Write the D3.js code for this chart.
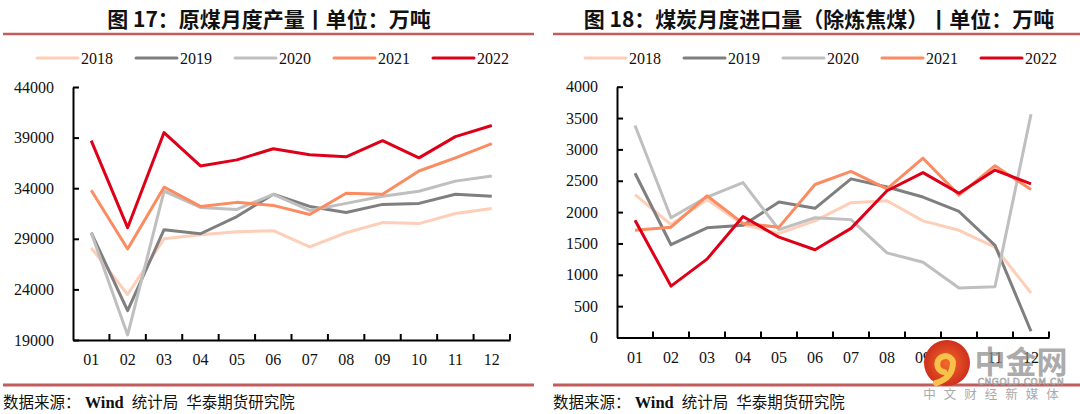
<!DOCTYPE html>
<html>
<head>
<meta charset="utf-8">
<script src="https://cdn.jsdelivr.net/npm/d3@7"></script>
<style>
  body { margin: 0; background: #fff; }
  svg { display: block; }
</style>
</head>
<body>
<script>
// data
const months = ['01', '02', '03', '04', '05', '06', '07', '08', '09', '10', '11', '12']
const years = ['2018', '2019', '2020', '2021', '2022']

// 原煤月度产量 (万吨)
const output2018 = [28100, 23500, 29000, 29400, 29700, 29800, 28200, 29600, 30600, 30500, 31500, 32000]
const output2019 = [29600, 21900, 29900, 29500, 31200, 33400, 32200, 31600, 32400, 32500, 33400, 33200]
const output2020 = [29600, 19500, 33700, 32100, 31900, 33400, 31800, 32500, 33200, 33700, 34700, 35200]
const output2021 = [33800, 28000, 34100, 32200, 32600, 32300, 31400, 33500, 33400, 35700, 37000, 38400]
const output2022 = [38700, 30100, 39500, 36200, 36800, 37900, 37300, 37100, 38700, 37000, 39100, 40200]
const outputTicks = [19000, 24000, 29000, 34000, 39000, 44000]

// 煤炭月度进口量 除炼焦煤 (万吨)
const import2018 = [2280, 1800, 2200, 1800, 1660, 1860, 2150, 2180, 1860, 1710, 1440, 710]
const import2019 = [2620, 1480, 1750, 1790, 2160, 2060, 2530, 2400, 2240, 2010, 1470, 100]
const import2020 = [3380, 1910, 2240, 2470, 1720, 1910, 1880, 1350, 1200, 790, 810, 3560]
const import2021 = [1710, 1760, 2260, 1820, 1760, 2440, 2650, 2370, 2860, 2270, 2740, 2360]
const import2022 = [1870, 820, 1250, 1930, 1600, 1400, 1740, 2340, 2630, 2300, 2670, 2450]
const importTicks = [0, 500, 1000, 1500, 2000, 2500, 3000, 3500, 4000]

const colors = ['#fdceb8', '#7f7f7f', '#bfbfbf', '#fb8c62', '#de0019']
const ruleColor = '#c25d5e'
const numFont = '"Liberation Serif", "Times New Roman", serif'
const cjkFont = '"Noto Sans CJK SC", "Noto Sans", sans-serif'

const svg = d3.select('body')
  .append('svg')
  .attr('width', 1080)
  .attr('height', 414)

const drawPanel = ({ left, right, title, titleX, series, ticks, yRange, xRange, legendX, labelPad }) => {
  const g = svg.append('g')

  // title + rules
  g.append('text')
    .attr('x', titleX)
    .attr('y', 27)
    .attr('text-anchor', 'middle')
    .attr('font-family', cjkFont)
    .attr('font-weight', 'bold')
    .attr('font-size', 21)
    .attr('fill', '#111')
    .text(title)

  g.append('line')
    .attr('x1', left).attr('x2', right)
    .attr('y1', 34).attr('y2', 34)
    .attr('stroke', ruleColor)
    .attr('stroke-width', 2.5)

  g.append('line')
    .attr('x1', left).attr('x2', right)
    .attr('y1', 385).attr('y2', 385)
    .attr('stroke', ruleColor)
    .attr('stroke-width', 3)

  const src = g.append('text')
    .attr('x', left)
    .attr('y', 408)
    .attr('font-family', cjkFont)
    .attr('font-size', 15.5)
    .attr('fill', '#111')
  src.append('tspan').text('数据来源：')
  src.append('tspan').attr('font-family', numFont).attr('font-weight', 'bold').attr('font-size', 16.5).text(' Wind')
  src.append('tspan').attr('dx', 8).text('统计局')
  src.append('tspan').attr('dx', 8).text('华泰期货研究院')

  // legend
  const legend = g.selectAll('.legend')
    .data(years)
    .enter()
    .append('g')
      .attr('class', 'legend')
      .attr('transform', (d, i) => `translate(${legendX + i * 99}, 58)`)

  legend.append('line')
    .attr('x1', 0).attr('x2', 41)
    .attr('stroke', (d, i) => colors[i])
    .attr('stroke-width', 3)
    .attr('stroke-linecap', 'round')

  legend.append('text')
    .attr('x', 44)
    .attr('y', 5.5)
    .attr('font-family', numFont)
    .attr('font-size', 16)
    .attr('fill', '#111')
    .text(d => d)

  // scales
  const x = d3.scaleBand()
    .domain(months)
    .range(xRange)

  const y = d3.scaleLinear()
    .domain([ticks[0], ticks[ticks.length - 1]])
    .range(yRange)

  // lines
  const line = d3.line()
    .x((d, i) => x(months[i]) + x.bandwidth() / 2)
    .y(d => y(d))

  g.selectAll('.series')
    .data(series)
    .enter()
    .append('path')
      .attr('class', 'series')
      .attr('fill', 'none')
      .attr('stroke', (d, i) => colors[i])
      .attr('stroke-width', 3)
      .attr('stroke-linejoin', 'round')
      .attr('d', line)

  // y axis, ticks inside
  const yAxis = g.append('g')
    .attr('transform', `translate(${xRange[0]}, 0)`)
    .call(d3.axisLeft(y).tickValues(ticks).tickSize(-6).tickSizeOuter(0).tickPadding(19).tickFormat(d3.format('d')))
  yAxis.select('.domain').attr('stroke', '#000').attr('stroke-width', 2)
  yAxis.selectAll('.tick line').attr('stroke', '#000').attr('stroke-width', 2)
  yAxis.selectAll('text')
    .attr('font-family', numFont)
    .attr('font-size', 16)
    .attr('fill', '#111')

  // x axis, labels in the bands, ticks at band edges
  const xAxis = g.append('g')
    .attr('transform', `translate(0, ${yRange[0]})`)
    .call(d3.axisBottom(x).tickSize(0).tickSizeOuter(0).tickPadding(labelPad))
  xAxis.select('.domain').attr('stroke', '#000').attr('stroke-width', 2)
  xAxis.selectAll('text')
    .attr('font-family', numFont)
    .attr('font-size', 16)
    .attr('fill', '#111')

  xAxis.selectAll('.edge')
    .data(months)
    .enter()
    .append('line')
      .attr('class', 'edge')
      .attr('x1', d => x(d) + x.bandwidth())
      .attr('x2', d => x(d) + x.bandwidth())
      .attr('y1', 0)
      .attr('y2', -6)
      .attr('stroke', '#000')
      .attr('stroke-width', 2)
}

drawPanel({
  left: 3, right: 534,
  title: '图 17：原煤月度产量丨单位：万吨',
  titleX: 269,
  series: [output2018, output2019, output2020, output2021, output2022],
  ticks: outputTicks,
  yRange: [340, 87],
  xRange: [73, 510],
  legendX: 37,
  labelPad: 14
})

drawPanel({
  left: 553, right: 1080,
  title: '图 18：煤炭月度进口量（除炼焦煤）丨单位：万吨',
  titleX: 819,
  series: [import2018, import2019, import2020, import2021, import2022],
  ticks: importTicks,
  yRange: [337.5, 86.7],
  xRange: [617, 1049],
  legendX: 585,
  labelPad: 14
})

// watermark (中金网), sits over the axis labels like in the source image
const wm = svg.append('g')
const grad = svg.append('defs').append('radialGradient').attr('id', 'wmGrad')
grad.append('stop').attr('offset', '0%').attr('stop-color', '#f26a2c')
grad.append('stop').attr('offset', '100%').attr('stop-color', '#cf2f1c')

wm.append('circle')
  .attr('cx', 947).attr('cy', 363).attr('r', 23)
  .attr('fill', 'url(#wmGrad)')

wm.append('path')
  .attr('d', 'M 944 372 A 8 8 0 1 1 953 362 Q 953 378 936 383')
  .attr('fill', 'none')
  .attr('stroke', '#f7c24a')
  .attr('stroke-width', 6)
  .attr('stroke-linecap', 'round')

wm.append('text')
  .attr('x', 1021).attr('y', 373)
  .attr('text-anchor', 'middle')
  .attr('font-family', cjkFont)
  .attr('font-weight', 'bold')
  .attr('font-size', 31)
  .attr('fill', '#8f8f8f')
  .attr('fill-opacity', 0.75)
  .text('中金网')

wm.append('text')
  .attr('x', 1021).attr('y', 385)
  .attr('text-anchor', 'middle')
  .attr('font-family', '"DejaVu Sans", sans-serif')
  .attr('font-size', 9)
  .attr('letter-spacing', 0.6)
  .attr('fill', 'none')
  .attr('stroke', '#9a9a9a')
  .attr('stroke-width', 0.6)
  .text('CNGOLD.COM.CN')

wm.append('text')
  .attr('x', 995).attr('y', 399)
  .attr('text-anchor', 'middle')
  .attr('font-family', cjkFont)
  .attr('font-size', 12.5)
  .attr('letter-spacing', 8)
  .attr('fill', '#aaaaaa')
  .text('中文财经新媒体')
</script>
</body>
</html>
